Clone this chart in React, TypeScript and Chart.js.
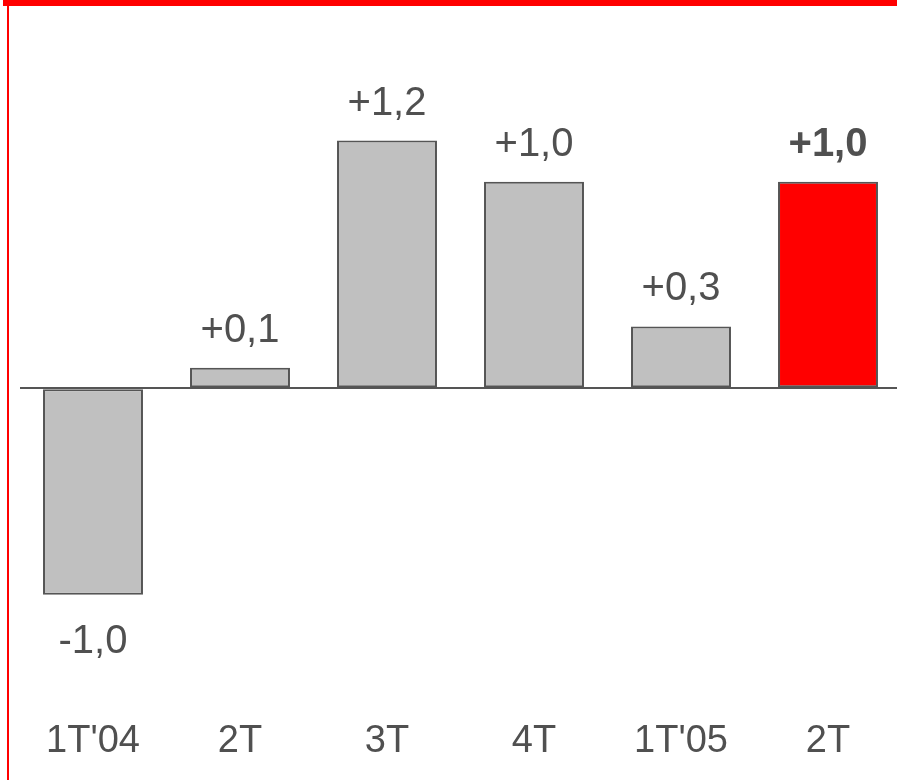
import React, { useEffect, useRef } from "react";
import { Chart, registerables } from "chart.js";

Chart.register(...registerables);

const categories = ["1T'04", "2T", "3T", "4T", "1T'05", "2T"];
const values = [-1.0, 0.1, 1.2, 1.0, 0.3, 1.0];
const valueLabels = ["-1,0", "+0,1", "+1,2", "+1,0", "+0,3", "+1,0"];
const barColors = ["#c0c0c0", "#c0c0c0", "#c0c0c0", "#c0c0c0", "#c0c0c0", "#ff0000"];
const boldLabel = [false, false, false, false, false, true];

const FONT = "'Liberation Sans', Arial, sans-serif";
const TEXT = "#505050";

const labelPlugin = {
  id: "valueLabels",
  afterDatasetsDraw(chart: any) {
    const ctx = chart.ctx;
    const meta = chart.getDatasetMeta(0);
    ctx.save();
    ctx.fillStyle = TEXT;
    ctx.textAlign = "center";
    ctx.textBaseline = "alphabetic";
    meta.data.forEach((bar: any, i: number) => {
      ctx.font = `${boldLabel[i] ? "bold " : ""}40px ${FONT}`;
      const v = values[i];
      if (v >= 0) {
        ctx.fillText(valueLabels[i], bar.x, bar.y - 26);
      } else {
        ctx.fillText(valueLabels[i], bar.x, bar.y + 58);
      }
    });
    ctx.restore();
  },
};

export default function App() {
  const ref = useRef<HTMLCanvasElement>(null);
  useEffect(() => {
    if (!ref.current) return;
    const chart = new Chart(ref.current, {
      type: "bar",
      data: {
        labels: categories,
        datasets: [
          {
            data: values,
            backgroundColor: barColors,
            borderColor: "#555555",
            borderWidth: 2,
            borderSkipped: false,
            barPercentage: 0.68,
            categoryPercentage: 1,
          },
        ],
      },
      options: {
        responsive: false,
        animation: false,
        devicePixelRatio: 1,
        layout: { padding: { top: 58, bottom: 16, left: 19.5, right: 0.5 } },
        plugins: { legend: { display: false }, tooltip: { enabled: false } },
        scales: {
          x: {
            grid: { display: false, drawTicks: false },
            border: { display: false },
            ticks: {
              color: TEXT,
              font: { family: FONT, size: 38 },
              padding: 21,
              maxRotation: 0,
            },
            afterFit: (scale: any) => {
              scale.height = 66;
            },
          },
          y: {
            min: -1.5,
            max: 1.6,
            ticks: { display: false, stepSize: 0.5 },
            border: { display: false },
            grid: {
              drawTicks: false,
              lineWidth: 2,
              color: (c: any) => (c.tick && c.tick.value === 0 ? "#555555" : "rgba(0,0,0,0)"),
            },
          },
        },
      },
      plugins: [labelPlugin],
    });
    return () => chart.destroy();
  }, []);

  return (
    <div style={{ position: "absolute", left: 0, top: 0, width: 897, height: 780, overflow: "hidden", background: "#fff" }}>
      <canvas ref={ref} width={902} height={780} style={{ position: "absolute", left: 0, top: 0 }} />
      <div style={{ position: "absolute", left: 3, top: 0, width: 894, height: 6, background: "#ff0000" }} />
      <div style={{ position: "absolute", left: 7, top: 0, width: 2, height: 780, background: "#ff0000" }} />
    </div>
  );
}
